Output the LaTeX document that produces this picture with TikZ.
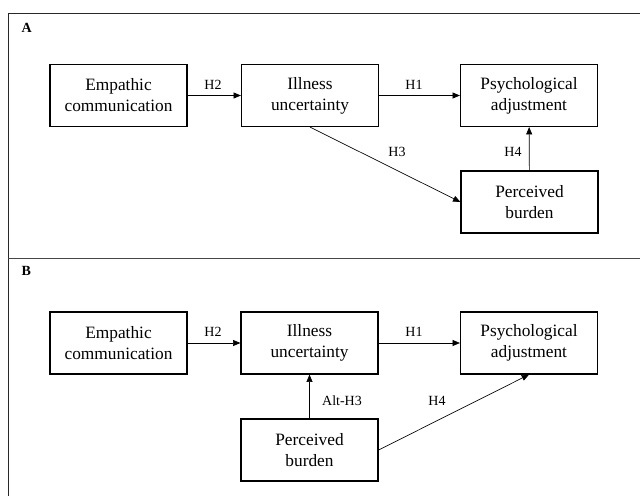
\documentclass[tikz,border=0pt]{standalone}
\usepackage{fontspec}
\setmainfont{Liberation Serif}
\usetikzlibrary{arrows.meta}

\tikzset{every picture/.style={line width=0.75pt}}
\tikzset{
  varbox/.style={draw, line width=0.9pt, minimum width=102.75pt, minimum height=46.5pt, inner sep=0.75pt, align=center, font=\fontsize{13}{15.75}\selectfont},
  hyplabel/.style={inner sep=0.75pt, font=\fontsize{10.5}{12}\selectfont},
  panellabel/.style={anchor=west, inner sep=0.75pt, font=\fontsize{10.5}{12}\selectfont\bfseries},
  path/.style={line width=0.5pt, -{Triangle[length=5.5pt,width=4.5pt]}}
}

\begin{document}
\begin{tikzpicture}[x=0.75pt,y=0.75pt,yscale=-1,xscale=1]
\useasboundingbox (0,0) rectangle (640,496);

%Shape: Frame
\draw [color={rgb, 255:red, 40; green, 40; blue, 40 }] (8,497) -- (8,13) -- (641,13) ;
%Shape: Divider
\draw [color={rgb, 255:red, 70; green, 70; blue, 70 }] (8,258) -- (641,258) ;

% Panel A
\node [panellabel] (labA) at (20,28) {A};
\node [varbox] (empA) at (118.5,95.5) {Empathic\\communication};
\node [varbox] (illA) at (310,95.5) {Illness\\uncertainty};
\node [varbox] (psyA) at (529,95.5) {Psychological\\adjustment};
\node [varbox] (burA) at (529.5,202) {Perceived\\burden};

\draw [path] (empA) -- (illA);
\draw [path] (illA) -- (psyA);
\draw [path] (illA.south) -- (burA.west);
\draw [path] (burA) -- (psyA);

% Text Node
\node [hyplabel] (h2A) at (213,85) {H2};
\node [hyplabel] (h1A) at (414,85) {H1};
\node [hyplabel] (h3A) at (397,152) {H3};
\node [hyplabel] (h4A) at (513,152) {H4};

% Panel B
\node [panellabel] (labB) at (20,271) {B};
\node [varbox] (empB) at (118.5,343) {Empathic\\communication};
\node [varbox] (illB) at (309.5,343) {Illness\\uncertainty};
\node [varbox] (psyB) at (529,343) {Psychological\\adjustment};
\node [varbox] (burB) at (309.5,450) {Perceived\\burden};

\draw [path] (empB) -- (illB);
\draw [path] (illB) -- (psyB);
\draw [path] (burB) -- (illB);
\draw [path] (burB.east) -- (psyB.south);

% Text Node
\node [hyplabel] (h2B) at (213,332) {H2};
\node [hyplabel] (h1B) at (414,332) {H1};
\node [hyplabel] (h3B) at (342,401) {Alt-H3};
\node [hyplabel] (h4B) at (437,401) {H4};

\end{tikzpicture}
\end{document}
